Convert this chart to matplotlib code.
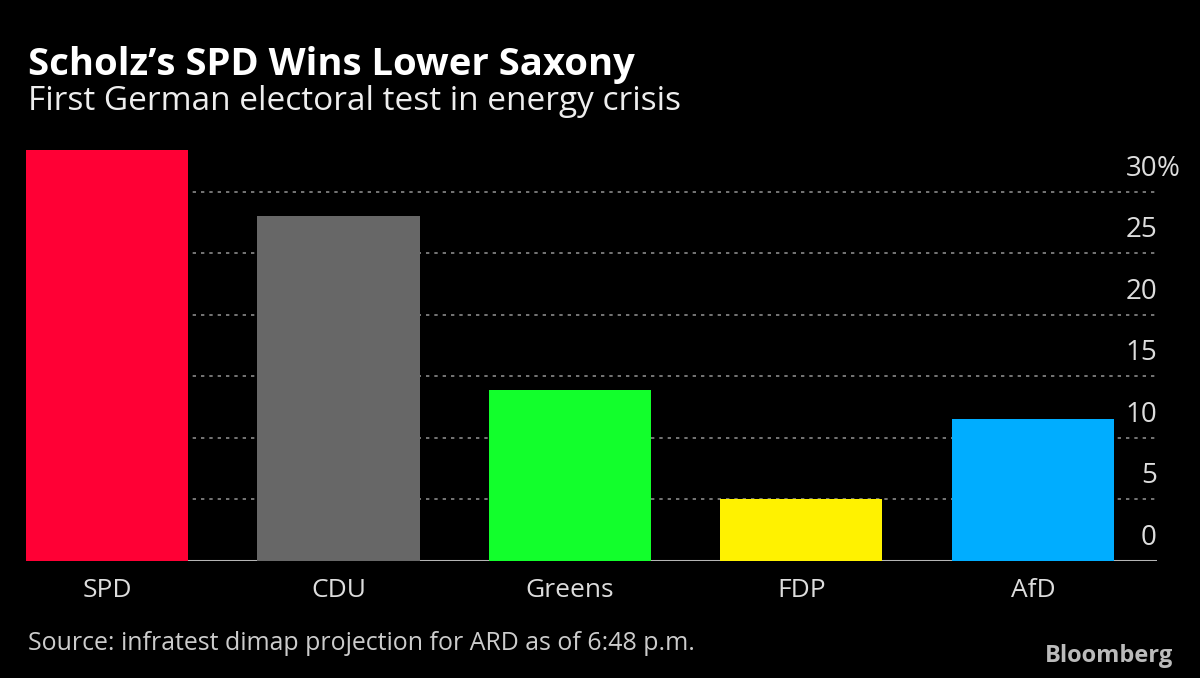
"""Lower Saxony state election projection, Bloomberg style bar chart"""

import matplotlib.pyplot as plt
import matplotlib.transforms as mtransforms

parties = ['SPD', 'CDU', 'Greens', 'FDP', 'AfD']
shares = [33.4, 28.0, 13.9, 5.0, 11.5]
colors = ['#ff0035', '#676767', '#12ff2c', '#fff200', '#00adff']
yticks = [0, 5, 10, 15, 20, 25, 30]
ytick_labels = ['0', '5', '10', '15', '20', '25', '30']

title = "Scholz\u2019s SPD Wins Lower Saxony"
subtitle = "First German electoral test in energy crisis"
source = "Source: infratest dimap projection for ARD as of 6:48 p.m."

FONT = ['Open Sans', 'DejaVu Sans']
W, H = 1200, 678


def main():
    plt.rcParams['font.family'] = FONT
    fig = plt.figure(figsize=(W / 100, H / 100), dpi=100, facecolor='black')

    # axes placed in pixel terms: left 26, right 1157, baseline 561, top 150
    left, right, bottom, top = 26, 1157, 561, 150
    ax = fig.add_axes([left / W, 1 - bottom / H, (right - left) / W, (bottom - top) / H])
    ax.set_facecolor('black')

    x = range(len(parties))
    ax.bar(x, shares, width=0.7, color=colors, zorder=3)
    ax.set_xlim(-0.35, 4.536)
    ax.set_ylim(0, 33.4)

    # dotted gridlines and baseline
    for t in yticks[1:]:
        ax.axhline(t, color='#8a8a8a', linestyle=(0, (2, 3)), linewidth=1.2, zorder=1)
    ax.axhline(0, color='#b5b5b5', linewidth=2.2, zorder=2)

    for s in ax.spines.values():
        s.set_visible(False)
    ax.set_yticks([])
    ax.set_xticks(list(x))
    ax.set_xticklabels(parties, color='#dddddd', fontsize=19)
    ax.tick_params(axis='x', length=0, pad=12)

    # y labels sit above their gridlines, right aligned at the axes edge
    trans = mtransforms.blended_transform_factory(ax.transAxes, ax.transData)
    trans = mtransforms.offset_copy(trans, fig=fig, x=0, y=16, units='dots')
    for t, lab in zip(yticks, ytick_labels):
        ax.text(1.0, t, lab, transform=trans, ha='right', va='baseline',
                color='#dddddd', fontsize=20)
    ax.text(1.0, yticks[-1], '%', transform=trans, ha='left', va='baseline',
            color='#dddddd', fontsize=20)

    fig.text(28 / W, 1 - 75 / H, title, color='white', fontsize=27.5,
             fontweight='bold', ha='left', va='baseline')
    fig.text(28 / W, 1 - 110 / H, subtitle, color='#eeeeee', fontsize=24,
             ha='left', va='baseline')
    fig.text(28 / W, 1 - 650 / H, source, color='#cccccc', fontsize=17.9,
             ha='left', va='baseline')
    fig.text(1173 / W, 1 - 662 / H, 'Bloomberg', color='#bbbbbb', fontsize=17,
             fontweight='bold', ha='right', va='baseline')

    plt.savefig('out.png', dpi=100, facecolor='black')
    plt.close()


if __name__ == "__main__":
    main()
